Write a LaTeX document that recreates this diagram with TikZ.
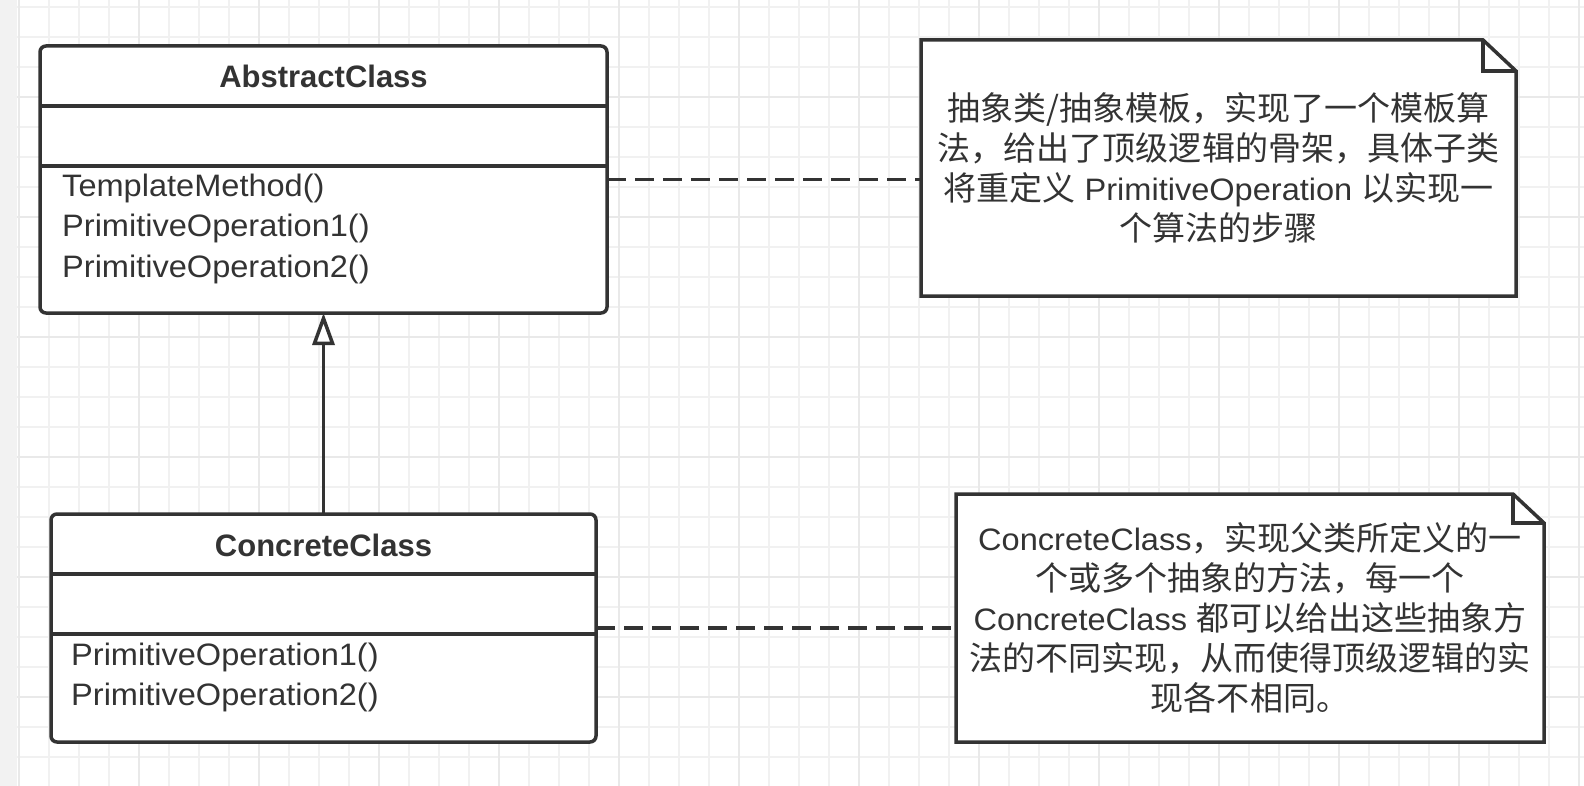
\documentclass[tikz,border=0pt]{standalone}
\usepackage{fontspec}
\setmainfont{Liberation Sans}[FakeStretch=1.05]
\newfontfamily\titlefont{Liberation Sans}
\newfontfamily\cjk{Noto Sans CJK SC}[Scale=1.065]
\usetikzlibrary{arrows.meta,calc}
\definecolor{ink}{HTML}{333333}
\definecolor{gridthin}{HTML}{F1F1F1}
\definecolor{gridthick}{HTML}{E9E9E9}
\definecolor{stripgray}{HTML}{F2F2F2}
\pgfdeclarelayer{back}
\pgfdeclarelayer{paper}
\pgfsetlayers{back,paper,main}
\begin{document}
\begin{tikzpicture}[x=1pt,y=-1pt,
  umlbox/.style={draw=ink, fill=white, line width=3.5pt, rounded corners=6pt, inner sep=0pt, outer sep=0pt},
  divider/.style={draw=ink, line width=3.5pt},
  titletext/.style={text=ink, font=\titlefont\bfseries\fontsize{31}{40}\selectfont, inner sep=0pt, anchor=base},
  methodtext/.style={text=ink, font=\fontsize{31}{40}\selectfont, inner sep=0pt, anchor=base west},
  notebox/.style={inner sep=0pt, outer sep=0pt, text=ink, align=center, font=\fontsize{31}{40}\selectfont},
  noteline/.style={draw=ink, line width=3.5pt, line join=miter},
  dashline/.style={draw=ink, line width=3.5pt, dash pattern=on 19pt off 9pt},
  inherit/.style={draw=ink, line width=3.5pt, -{Triangle[fill=white, length=32pt, width=22pt]}}
]
\useasboundingbox (0,0) rectangle (1584,786);
\begin{pgfonlayer}{back}
  \fill[white] (0,0) rectangle (1584,786);
  \foreach \x in {19,49,...,1579} \draw[gridthin, line width=2pt] (\x,0) -- (\x,786);
  \foreach \y in {7,37,...,757} \draw[gridthin, line width=2pt] (17,\y) -- (1584,\y);
  \foreach \x in {19,139,...,1579} \draw[gridthick, line width=2.5pt] (\x,0) -- (\x,786);
  \foreach \y in {97,217,...,697} \draw[gridthick, line width=2.5pt] (17,\y) -- (1584,\y);
  \fill[stripgray] (0,0) rectangle (17,786);
\end{pgfonlayer}

% AbstractClass
\node[umlbox, minimum width=567pt, minimum height=267pt] (abs) at (323.5,179.5) {};
\draw[divider] (abs.west |- 0,106) -- (abs.east |- 0,106);
\draw[divider] (abs.west |- 0,166) -- (abs.east |- 0,166);
\node[titletext] (absTitle) at (323.5,88) {AbstractClass};
\node[methodtext] (absM1) at (62,197) {TemplateMethod()};
\node[methodtext] (absM2) at (62,237) {PrimitiveOperation1()};
\node[methodtext] (absM3) at (62,277) {PrimitiveOperation2()};

% ConcreteClass
\node[umlbox, minimum width=545pt, minimum height=228pt] (con) at (323.5,628) {};
\draw[divider] (con.west |- 0,574) -- (con.east |- 0,574);
\draw[divider] (con.west |- 0,634) -- (con.east |- 0,634);
\node[titletext] (conTitle) at (323.5,556) {ConcreteClass};
\node[methodtext] (conM1) at (71,665) {PrimitiveOperation1()};
\node[methodtext] (conM2) at (71,705) {PrimitiveOperation2()};

% Notes
\node[notebox, minimum width=595pt, minimum height=256pt] (n1) at (1218.5,168) {%
{\cjk 抽象类/抽象模板，实现了一个模板算}\\
{\cjk 法，给出了顶级逻辑的骨架，具体子类}\\
{\cjk 将重定义} PrimitiveOperation {\cjk 以实现一}\\
{\cjk 个算法的步骤}};
\node[notebox, minimum width=588pt, minimum height=248pt] (n2) at (1250,618) {%
ConcreteClass{\cjk ，实现父类所定义的一}\\
{\cjk 个或多个抽象的方法，每一个}\\
ConcreteClass {\cjk 都可以给出这些抽象方}\\
{\cjk 法的不同实现，从而使得顶级逻辑的实}\\
{\cjk 现各不相同。}};

\begin{pgfonlayer}{paper}
  \draw[noteline, fill=white] (n1.south west) -- (n1.north west) -- ([xshift=-33pt]n1.north east) -- ([yshift=-31pt]n1.north east) -- (n1.south east) -- cycle;
  \draw[noteline] ([xshift=-33pt]n1.north east) -- ([xshift=-33pt,yshift=-31pt]n1.north east) -- ([yshift=-31pt]n1.north east);
  \draw[noteline, fill=white] (n2.south west) -- (n2.north west) -- ([xshift=-31pt]n2.north east) -- ([yshift=-29pt]n2.north east) -- (n2.south east) -- cycle;
  \draw[noteline] ([xshift=-31pt]n2.north east) -- ([xshift=-31pt,yshift=-29pt]n2.north east) -- ([yshift=-29pt]n2.north east);
\end{pgfonlayer}

% Connectors
\draw[inherit] (con.north) -- (abs.south);
\draw[dashline] (abs.east) -- (abs.east -| n1.west);
\draw[dashline] (con.east) -- (con.east -| n2.west);
\end{tikzpicture}
\end{document}
